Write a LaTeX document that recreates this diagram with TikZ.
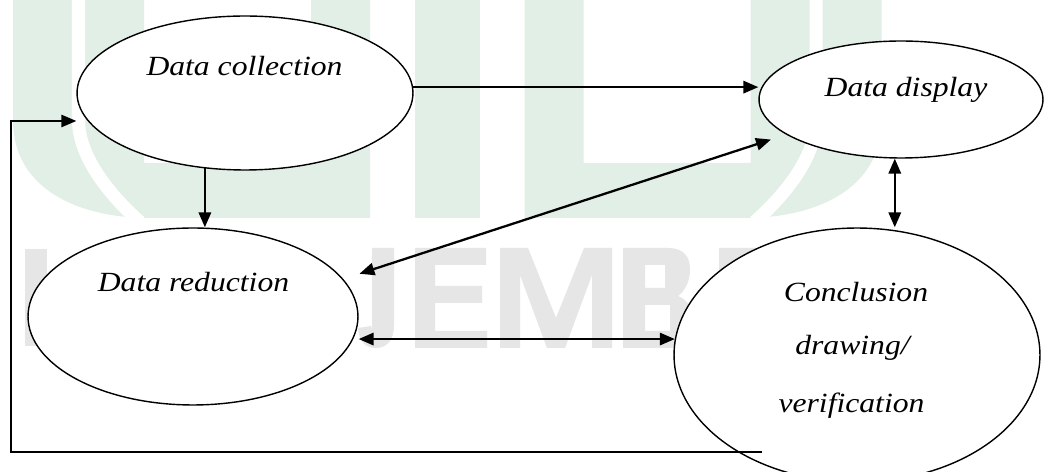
\documentclass[tikz,border=0pt]{standalone}
\usepackage{fontspec}
\usepackage{graphicx}
\setmainfont{Liberation Serif}
\usetikzlibrary{shapes.geometric,arrows.meta}
\definecolor{wmgreen}{RGB}{226,239,230}
\definecolor{wmgray}{RGB}{230,230,230}
\newcommand\lblfont{\fontsize{15.8pt}{18pt}\selectfont\itshape}
\newcommand\wide[1]{\scalebox{1.14}[1]{#1}}
\tikzset{
  ell/.style={draw, ellipse, fill=white, line width=0.8pt, inner sep=0pt},
  lbl/.style={anchor=base, inner sep=0pt, font=\lblfont},
  tip/.tip={Triangle[length=8.5pt,width=7pt]},
  arr/.style={line width=1.3pt, -tip},
  dbl/.style={line width=1.3pt, tip-tip},
  wmstripe/.style={white, line width=7.4pt}
}
\begin{document}
\begin{tikzpicture}[x=0.02cm, y=-0.02cm]
\fill[white] (0,0) rectangle (1049,472);
\useasboundingbox (0,0) rectangle (1049,472);
% watermark (green)
\fill[wmgreen] (13,0) -- (13,120) .. controls (13,190) and (80,218) .. (150,218)
  -- (370,218) -- (370,0) -- (311,0) -- (311,163) -- (144,163) -- (144,0) -- cycle;
\draw[wmstripe] (78.5,-2) -- (78.5,120) .. controls (78.5,160) and (115,200) .. (140,222);
\fill[wmgreen] (881.5,0) -- (881.5,120) .. controls (881.5,190) and (814.5,218) .. (744.5,218)
  -- (524.5,218) -- (524.5,0) -- (583.5,0) -- (583.5,163) -- (750.5,163) -- (750.5,0) -- cycle;
\draw[wmstripe] (816,-2) -- (816,120) .. controls (816,160) and (779.5,200) .. (754.5,222);
\fill[wmgreen] (415,0) rectangle (480,218);
% watermark (gray)
\fill[wmgray] (25,249) rectangle (47,346);
\fill[wmgray] (372,248) -- (394,248) -- (394,325) .. controls (394,341) and (386,348) .. (376,348)
  .. controls (366,348) and (359,342) .. (358,328) -- (371,326) -- (372,330) -- cycle;
\fill[wmgray] (415,248) -- (486,248) -- (486,265) -- (435,265) -- (435,286) -- (482,286) -- (482,303)
  -- (435,303) -- (435,331) -- (487,331) -- (487,348) -- (415,348) -- cycle;
\fill[wmgray] (500,248) -- (528,248) -- (556,318) -- (584,248) -- (612,248) -- (612,348) -- (592,348)
  -- (592,275) -- (565,348) -- (547,348) -- (520,275) -- (520,348) -- (500,348) -- cycle;
\fill[wmgray, even odd rule] (623,248) -- (668,248) .. controls (685,248) and (690,258) .. (690,270)
  .. controls (690,282) and (684,292) .. (678,296) .. controls (688,300) and (694,310) .. (694,322)
  .. controls (694,338) and (683,348) .. (668,348) -- (623,348) -- cycle
  (645,265) rectangle (665,288) (645,305) rectangle (670,331);
\fill[wmgray] (719,248) -- (790,248) -- (790,265) -- (740,265) -- (740,348) -- (719,348) -- cycle;
% ellipses
\node[ell, minimum width=6.72cm, minimum height=3.08cm] (collect) at (245,93) {};
\node[ell, minimum width=5.68cm, minimum height=2.34cm] (display) at (901,99.5) {};
\node[ell, minimum width=6.6cm, minimum height=3.54cm] (reduce) at (193,316.5) {};
\node[ell, minimum width=7.32cm, minimum height=5.08cm] (concl) at (857,355) {};
% labels
\node[lbl] (tcollect) at (244.5,75.5) {\wide{Data collection}};
\node[lbl] (tdisplay) at (906,96.5) {\wide{Data display}};
\node[lbl] (treduce) at (193.5,292) {\wide{Data reduction}};
\node[lbl] (tconc1) at (856,302) {\wide{Conclusion}};
\node[lbl] (tconc2) at (852.5,355) {\wide{drawing/}};
\node[lbl] (tconc3) at (851.5,413) {\wide{verification}};
% connectors
\draw[arr] (collect.2) -- (collect.2 -| display.west);
\draw[arr] (collect.-118) -- (collect.-118 |- reduce.north);
\draw[dbl, shorten <=0.34cm, shorten >=0.32cm] (reduce.14.4) -- (display.197.5);
\draw[dbl] (display.-96.8) -- (display.-96.8 |- concl.north);
\draw[dbl] (concl.175.3 -| reduce.east) -- (concl.175.3);
\coordinate (fbend) at (762,452);
\coordinate (fbcorner) at (11,121);
\draw[arr, line width=0.9pt] (fbend) -| (fbcorner) -- (fbcorner -| collect.west);
\end{tikzpicture}
\end{document}
